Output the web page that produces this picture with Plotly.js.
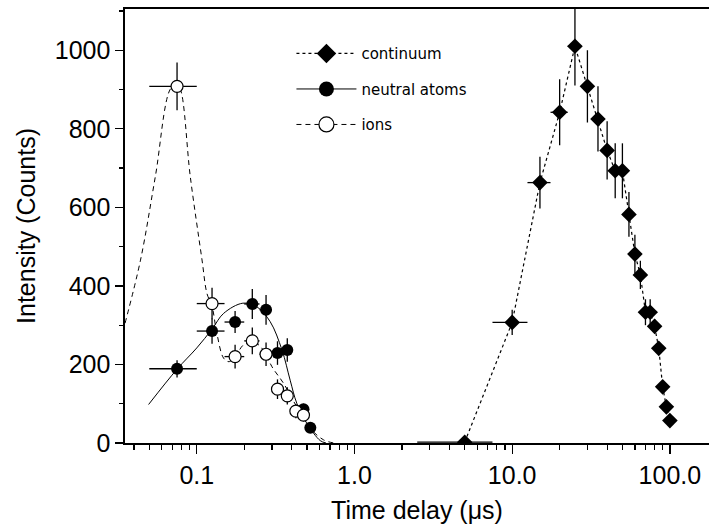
<!DOCTYPE html>
<html><head><meta charset="utf-8">
<script src="https://cdn.plot.ly/plotly-3.0.1.min.js"></script>
<style>html,body{margin:0;padding:0;background:#fff}#chart{width:709px;height:528px}</style>
</head><body><div id="chart"></div>
<script>
// ---- data ----
const contX = [5, 10, 15, 20, 25, 30, 35, 40, 45, 50, 55, 60, 65, 70, 75, 80, 85, 90, 95, 100];
const contY = [2, 307, 663, 842, 1010, 908, 825, 745, 693, 693, 582, 481, 428, 333, 333, 297, 241, 143, 92, 57];
const contErrY = [0, 32, 66, 84, 100, 92, 83, 74, 70, 70, 57, 49, 36, 33, 33, 18, 14, 10, 8, 6];
const contErrX = [2.5, 2.5, 2.5, 2.5, 2.5, 2.5, 2.5, 2.5, 2.5, 2.5, 2.5, 2.5, 2.5, 2.5, 2.5, 2.5, 2.5, 2.5, 2.5, 2.5];

const atomsX = [0.075, 0.125, 0.175, 0.225, 0.275, 0.325, 0.375, 0.475, 0.525];
const atomsY = [189, 285, 308, 354, 339, 229, 237, 86, 39];
const atomsErrY = [22, 32, 28, 38, 38, 30, 30, 14, 10];
const atomsErrX = [0.025, 0.025, 0.025, 0.025, 0.025, 0.025, 0.025, 0.025, 0.025];

const ionsX = [0.075, 0.125, 0.175, 0.225, 0.275, 0.325, 0.375, 0.425, 0.475];
const ionsY = [908, 355, 220, 260, 226, 137, 120, 81, 71];
const ionsErrY = [61, 40, 30, 34, 30, 25, 22, 18, 16];
const ionsErrX = [0.025, 0.025, 0.025, 0.025, 0.025, 0.025, 0.025, 0.025, 0.025];

// fitted curves
const atomsFitX = [0.0495, 0.075, 0.1, 0.125, 0.148, 0.196, 0.24, 0.292, 0.347, 0.391, 0.431, 0.499, 0.607, 0.66];
const atomsFitY = [98, 188, 242, 290, 330, 356, 347, 309, 237, 160, 101, 50, 6, 0];

const ionsFitX = [0.0351, 0.044, 0.0546, 0.068, 0.0744, 0.0786, 0.091, 0.108, 0.116, 0.125, 0.134, 0.148, 0.16, 0.175, 0.198, 0.225, 0.25, 0.275, 0.30, 0.355, 0.431, 0.525, 0.637, 0.74];
const ionsFitY = [305, 466, 678, 901, 912, 901, 678, 466, 381, 348, 280, 216, 207, 220, 250, 258, 248, 225, 194, 152, 92, 37, 8, 0];

const legendNames = ['continuum', 'neutral atoms', 'ions'];
const xTickVals = [0.1, 1, 10, 100];
const xTickText = ['0.1', '1.0', '10.0', '100.0'];
const xMinorVals = [0.04,0.05,0.06,0.07,0.08,0.09,0.2,0.3,0.4,0.5,0.6,0.7,0.8,0.9,2,3,4,5,6,7,8,9,20,30,40,50,60,70,80,90];
const yTickVals = [0, 200, 400, 600, 800, 1000];

const errStyle = {color: '#000', thickness: 1.3, width: 0};
const traces = [
  {x: atomsFitX, y: atomsFitY, mode: 'lines', line: {color: '#000', width: 1, shape: 'spline'}, showlegend: false, hoverinfo: 'skip'},
  {x: ionsFitX, y: ionsFitY, mode: 'lines', line: {color: '#000', width: 1, dash: '5px,4px', shape: 'spline'}, showlegend: false, hoverinfo: 'skip'},
  {x: contX, y: contY, mode: 'lines+markers', line: {color: '#000', width: 1.2, dash: 'dot'},
   marker: {symbol: 'diamond', size: 12, color: '#000'},
   error_y: Object.assign({type: 'data', array: contErrY}, errStyle),
   error_x: Object.assign({type: 'data', array: contErrX}, errStyle), showlegend: false},
  {x: atomsX, y: atomsY, mode: 'markers', marker: {symbol: 'circle', size: 12, color: '#000'},
   error_y: Object.assign({type: 'data', array: atomsErrY}, errStyle),
   error_x: Object.assign({type: 'data', array: atomsErrX}, errStyle), showlegend: false},
  {x: ionsX, y: ionsY, mode: 'markers', marker: {symbol: 'circle', size: 12, color: '#fff', line: {color: '#000', width: 1.2}},
   error_y: Object.assign({type: 'data', array: ionsErrY}, errStyle),
   error_x: Object.assign({type: 'data', array: ionsErrX}, errStyle), showlegend: false},
  // legend-only entries
  {x: [null], y: [null], name: legendNames[0], mode: 'lines+markers', legendgroup: 'a', line: {color: '#000', width: 1.2, dash: 'dot'}, marker: {symbol: 'diamond', size: 15, color: '#000'}},
  {x: [null], y: [null], name: legendNames[1], mode: 'lines+markers', legendgroup: 'b', line: {color: '#000', width: 1}, marker: {symbol: 'circle', size: 15, color: '#000'}},
  {x: [null], y: [null], name: legendNames[2], mode: 'lines+markers', legendgroup: 'c', line: {color: '#000', width: 1, dash: '5px,4px'}, marker: {symbol: 'circle', size: 15, color: '#fff', line: {color: '#000', width: 1.2}}}
];

const axFont = {family: 'Arial, Liberation Sans, Helvetica, sans-serif', size: 25, color: '#000'};
const layout = {
  width: 709, height: 528,
  margin: {l: 125, r: 0, t: 9, b: 85},
  paper_bgcolor: '#fff', plot_bgcolor: '#fff',
  showlegend: true,
  legend: {x: 0.285, y: 0.935, xanchor: 'left', yanchor: 'top', bgcolor: 'rgba(0,0,0,0)',
           font: {family: 'Comic Sans MS, DejaVu Sans, sans-serif', size: 15, color: '#000'},
           tracegroupgap: 13, traceorder: 'grouped', itemwidth: 60},
  xaxis: {type: 'log', range: [-1.455, 2.248], tickmode: 'array', tickvals: xTickVals, ticktext: xTickText,
          ticks: 'outside', ticklen: 9, tickwidth: 1.3, tickcolor: '#000',
          minor: {tickmode: 'array', tickvals: xMinorVals, ticks: 'outside', ticklen: 5, tickwidth: 1.2, tickcolor: '#000', showgrid: false},
          showline: true, linecolor: '#000', linewidth: 1.6, mirror: true, showgrid: false, zeroline: false,
          tickfont: axFont, title: {text: 'Time delay (\u03bcs)', font: axFont, standoff: 14}},
  xaxis2: {type: 'log', range: [-1.455, 2.248], overlaying: 'x', side: 'top', tickmode: 'array', tickvals: xTickVals,
          ticks: 'inside', ticklen: 4, tickwidth: 1, tickcolor: '#000', showticklabels: false, showgrid: false, showline: false, zeroline: false,
          minor: {tickmode: 'array', tickvals: xMinorVals, ticks: 'inside', ticklen: 3, tickwidth: 1, tickcolor: '#000', showgrid: false}},
  yaxis: {range: [0, 1105], tickmode: 'array', tickvals: yTickVals,
          ticks: 'outside', ticklen: 8, tickwidth: 1.3, tickcolor: '#000',
          minor: {dtick: 100, ticks: 'outside', ticklen: 4, tickwidth: 1.2, tickcolor: '#000', showgrid: false},
          showline: true, linecolor: '#000', linewidth: 1.6, showgrid: false, zeroline: false,
          tickfont: axFont, title: {text: 'Intensity (Counts)', font: axFont, standoff: 12}}
};
Plotly.newPlot('chart', traces, layout, {displayModeBar: false, staticPlot: true});
</script>
</body></html>
